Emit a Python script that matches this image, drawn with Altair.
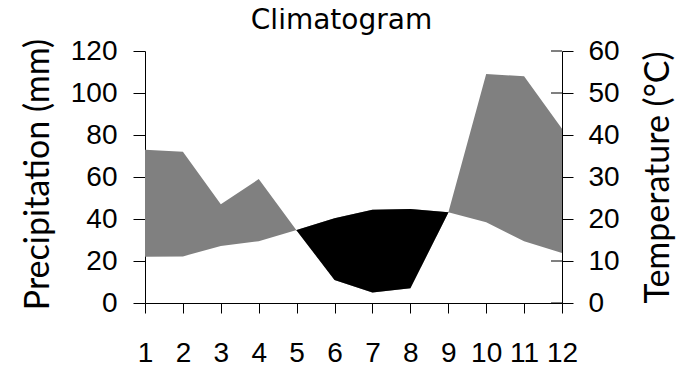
import altair as alt
import pandas as pd

# ---- data ----
months = list(range(1, 13))
precip = [73, 72, 47, 59, 34.5, 11, 5, 7, 43, 109, 108, 83]          # mm
temp = [11, 11.1, 13.6, 14.7, 17.4, 20.2, 22.2, 22.4, 21.6, 19.2, 14.7, 11.9]  # °C
precip_ticks = [0, 20, 40, 60, 80, 100, 120]
temp_ticks = [0, 10, 20, 30, 40, 50, 60]

df = pd.DataFrame({"month": months, "precip": precip, "temp": temp})
ticks_df = pd.DataFrame({"t": temp_ticks})

W, H = 417, 252
LABEL_FONT = "Liberation Sans"
TITLE_FONT = "Lato"

x_enc = alt.X(
    "month:Q",
    scale=alt.Scale(domain=[1, 12], nice=False, zero=False),
    axis=alt.Axis(
        values=months, format="d", title=None, grid=False,
        tickSize=10, labelPadding=26, labelFontSize=28, labelFont=LABEL_FONT,
        labelColor="black", labelFlush=False, labelOverlap=False,
        domainColor="black", tickColor="black",
    ),
)

y_left_axis = alt.Axis(
    orient="left", values=precip_ticks, grid=False,
    title="Precipitation (mm)", titleFont=TITLE_FONT, titleFontSize=34,
    titleFontWeight="normal", titleColor="black",
    titleAngle=270, titleAlign="center", titleBaseline="middle",
    titleX=-107, titleY=123,
    tickSize=12, labelPadding=16, labelFontSize=28, labelFont=LABEL_FONT,
    labelColor="black", domainColor="black", tickColor="black",
)
y_left_scale = alt.Scale(domain=[0, 120], nice=False)

base = alt.Chart(df).transform_calculate(temp2="datum.temp * 2")

wet = base.mark_area(color="#808080").encode(
    x=x_enc,
    y=alt.Y("precip:Q", scale=y_left_scale, axis=y_left_axis),
    y2="temp2:Q",
)

dry = base.transform_filter("datum.precip <= datum.temp2").mark_area(color="black").encode(
    x=x_enc,
    y=alt.Y("precip:Q", scale=y_left_scale, axis=y_left_axis),
    y2="temp2:Q",
)

inner_ticks = alt.Chart(ticks_df).mark_rule(color="black", strokeWidth=1).encode(
    x=alt.value(W - 11),
    x2=alt.value(W),
    y=alt.Y(
        "t:Q",
        scale=alt.Scale(domain=[0, 60], nice=False),
        axis=alt.Axis(
            orient="right", values=temp_ticks, grid=False,
            title="Temperature (°C)", titleFont=TITLE_FONT, titleFontSize=34,
            titleFontWeight="normal", titleColor="black",
            titleAngle=270, titleAlign="center", titleBaseline="middle",
            titleX=96, titleY=126,
            tickSize=11, labelPadding=15, labelFontSize=28, labelFont=LABEL_FONT,
            labelColor="black", domainColor="black", tickColor="black",
        ),
    ),
)

chart = (
    alt.layer(inner_ticks, alt.layer(wet, dry))
    .resolve_scale(y="independent")
    .properties(
        width=W,
        height=H,
        background="white",
        autosize=alt.AutoSizeParams(type="none"),
        padding={"left": 137, "top": 43, "right": 121, "bottom": 70},
        title=alt.TitleParams(
            "Climatogram", font="DejaVu Sans", fontSize=28, fontWeight="normal",
            color="black", anchor="middle", offset=2, dx=-12,
        ),
    )
    .configure_view(stroke=None)
)

chart.save("out.html", embed_options={"renderer": "svg", "actions": False})
